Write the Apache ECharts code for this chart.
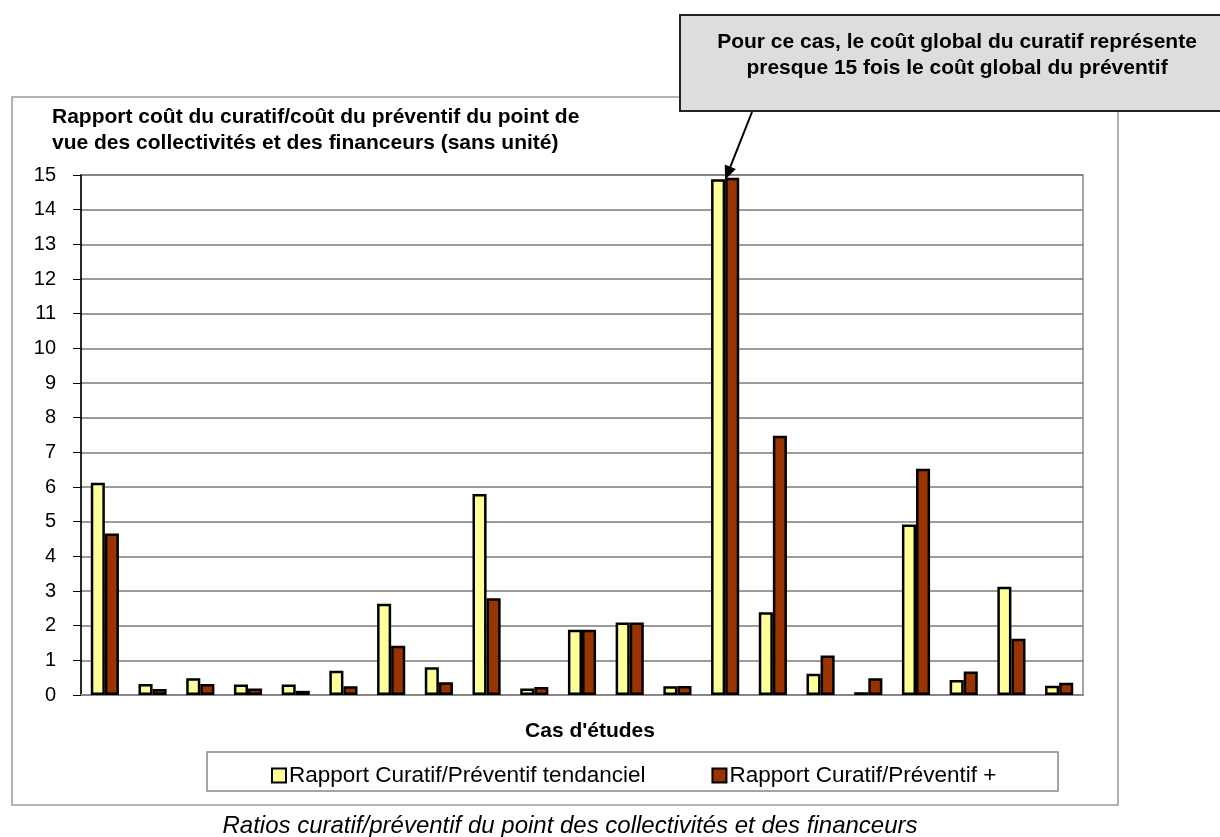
<!DOCTYPE html>
<html><head><meta charset="utf-8">
<script src="https://cdn.jsdelivr.net/npm/echarts@6/dist/echarts.min.js"></script>
<style>html,body{margin:0;padding:0;background:#fff}#c{width:1220px;height:837px}</style>
</head><body><div id="c"></div>
<script>
const categories = ['1','2','3','4','5','6','7','8','9','10','11','12','13','14','15','16','17','18','19','20','21'];
const tendanciel = [6.12,0.32,0.48,0.30,0.30,0.70,2.63,0.80,5.80,0.19,1.88,2.09,0.25,14.88,2.39,0.61,0.08,4.92,0.43,3.12,0.27];
const plus = [4.66,0.17,0.32,0.19,0.12,0.25,1.42,0.37,2.79,0.23,1.88,2.09,0.26,14.92,7.48,1.14,0.48,6.53,0.68,1.62,0.35];
const yTicks = [0,1,2,3,4,5,6,7,8,9,10,11,12,13,14,15];
const seriesNames = ['Rapport Curatif/Préventif tendanciel','Rapport Curatif/Préventif +'];
const yTitle = 'Rapport coût du curatif/coût du préventif du point de\nvue des collectivités et des financeurs (sans unité)';
const xTitle = "Cas d'études";
const caption = 'Ratios curatif/préventif du point des collectivités et des financeurs';
const callout = 'Pour ce cas, le coût global du curatif représente\npresque 15 fois le coût global du préventif';
const calloutIndex = 13;

const F = 'Liberation Sans, Arial, sans-serif';
const chart = echarts.init(document.getElementById('c'), null, {renderer:'canvas'});
const option = {
  animation:false,
  backgroundColor:'#fff',
  textStyle:{fontFamily:F},
  grid:{left:81,right:137,top:175,bottom:142,show:true,borderColor:'#888',borderWidth:1.5,backgroundColor:'transparent'},
  legend:{
    left:266, top:759, itemGap:66, itemWidth:14, itemHeight:14, icon:'rect',
    textStyle:{fontFamily:F,fontSize:22.5,color:'#000',padding:[0,0,0,-2]},
    data:seriesNames
  },
  xAxis:{
    type:'category', data:categories,
    axisLine:{lineStyle:{color:'#888',width:2}},
    axisTick:{show:false},
    axisLabel:{show:false}
  },
  yAxis:{
    type:'value', min:yTicks[0], max:yTicks[yTicks.length-1], interval:1,
    axisLine:{show:true,lineStyle:{color:'#000',width:1.5}},
    axisTick:{show:true,length:8,lineStyle:{color:'#000'}},
    axisLabel:{fontFamily:F,fontSize:20,color:'#000',margin:25},
    splitLine:{lineStyle:{color:'#7a7a7a',width:1.5}}
  },
  series:[
    {name:seriesNames[0],type:'bar',data:tendanciel,barGap:'0%',barCategoryGap:'41%',
     itemStyle:{color:'#FFFF99',borderColor:'#000',borderWidth:2.5}},
    {name:seriesNames[1],type:'bar',data:plus,barGap:'0%',barCategoryGap:'41%',
     itemStyle:{color:'#993300',borderColor:'#000',borderWidth:2.5}}
  ],
  graphic:[]
};
chart.setOption(option);

const tip = chart.convertToPixel({xAxisIndex:0,yAxisIndex:0},[calloutIndex, Math.max(tendanciel[calloutIndex],plus[calloutIndex])]);
const tx = tip[0], ty = tip[1] + 2;
const sx = 752, sy = 112;
const ang = Math.atan2(ty-sy, tx-sx);
const hl = 14, hw = 6;
const bx = tx - hl*Math.cos(ang), by = ty - hl*Math.sin(ang);
const px = -Math.sin(ang)*hw, py = Math.cos(ang)*hw;

chart.setOption({graphic:[
  {type:'rect',z:-10,shape:{x:12,y:97,width:1106,height:708},style:{fill:'none',stroke:'#999',lineWidth:1.5}},
  {type:'text',x:52,y:104,style:{text:yTitle,font:'bold 21px '+F,fill:'#000',lineHeight:26,verticalAlign:'top'}},
  {type:'text',x:590,y:731,style:{text:xTitle,font:'bold 21px '+F,fill:'#000',align:'center',verticalAlign:'middle'}},
  {type:'rect',z:-5,shape:{x:207,y:752,width:851,height:39},style:{fill:'#fff',stroke:'#888',lineWidth:1.5}},
  {type:'text',x:570,y:826,style:{text:caption,font:'italic 24px '+F,fill:'#000',align:'center',verticalAlign:'middle'}},
  {type:'rect',z:50,shape:{x:680,y:15,width:560,height:96},style:{fill:'#DDDDDD',stroke:'#222',lineWidth:2}},
  {type:'text',z:51,x:957,y:29,style:{text:callout,font:'bold 21px '+F,fill:'#000',align:'center',verticalAlign:'top',lineHeight:26}},
  {type:'line',z:52,shape:{x1:sx,y1:sy,x2:bx,y2:by},style:{stroke:'#000',lineWidth:2}},
  {type:'polygon',z:52,shape:{points:[[tx,ty],[bx+px,by+py],[bx-px,by-py]]},style:{fill:'#000'}}
]});
</script></body></html>
